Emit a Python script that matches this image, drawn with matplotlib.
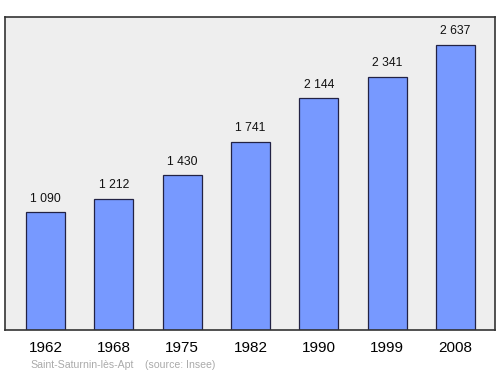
import matplotlib.pyplot as plt

plt.rcParams['font.family'] = ['Liberation Sans', 'DejaVu Sans']

years = ['1962', '1968', '1975', '1982', '1990', '1999', '2008']
population = [1090, 1212, 1430, 1741, 2144, 2341, 2637]
value_labels = ['1 090', '1 212', '1 430', '1 741', '2 144', '2 341', '2 637']

fig = plt.figure(figsize=(5, 3.74), dpi=100)
ax = fig.add_axes([5/500, 1 - 330/374, 490/500, 313/374])
ax.set_facecolor('#eeeeee')

x = list(range(len(years)))
ax.bar(x, population, width=0.57, color='#7799ff', edgecolor='#222244', linewidth=0.9, zorder=2)
for xi, v, lab in zip(x, population, value_labels):
    ax.annotate(lab, (xi, v), xytext=(0, 5.5), textcoords='offset points',
                ha='center', va='bottom', fontsize=8.7, color='#111111')

ax.set_xlim(-0.593, 6.578)
ax.set_ylim(0, 2895)
ax.set_yticks([])
ax.set_xticks(x)
ax.set_xticklabels(years, fontsize=11)
ax.tick_params(axis='x', length=0, pad=8)
for s in ax.spines.values():
    s.set_color('#333333')
    s.set_linewidth(1.2)

fig.text(30/500, 1 - 365/374, 'Saint-Saturnin-lès-Apt', fontsize=7.6,
         color='#aaaaaa', va='center', ha='left')
fig.text(145/500, 1 - 365/374, '(source: Insee)', fontsize=7.6,
         color='#aaaaaa', va='center', ha='left')

fig.savefig('out.png', dpi=100)
